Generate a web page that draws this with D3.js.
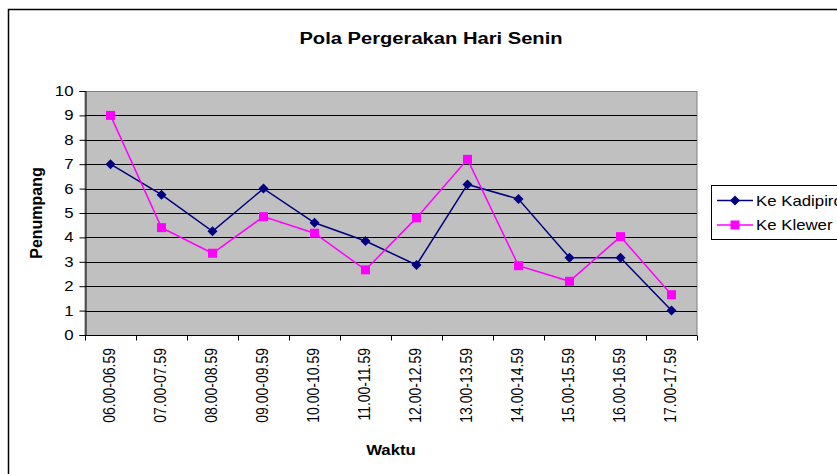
<!DOCTYPE html>
<html>
<head>
<meta charset="utf-8">
<script src="https://cdn.jsdelivr.net/npm/d3@7"></script>
<style>
  html, body { margin: 0; padding: 0; background: #fff; }
  svg { display: block; font-family: "Liberation Sans", Arial, sans-serif; }
</style>
</head>
<body>
<svg id="chart" width="837" height="474"></svg>
<script>
// Hourly time slots (x axis)
const categories = ["06.00-06.59", "07.00-07.59", "08.00-08.59", "09.00-09.59",
  "10.00-10.59", "11.00-11.59", "12.00-12.59", "13.00-13.59",
  "14.00-14.59", "15.00-15.59", "16.00-16.59", "17.00-17.59"];
// Passenger counts per slot
const keKadipiro = [7, 5.75, 4.25, 6, 4.6, 3.85, 2.87, 6.17, 5.57, 3.17, 3.17, 1];
const keKlewer   = [9, 4.4, 3.35, 4.85, 4.17, 2.67, 4.8, 7.2, 2.84, 2.2, 4.03, 1.65];
const seriesNames = ["Ke Kadipiro", "Ke Klewer"];
const yTicks = [0, 1, 2, 3, 4, 5, 6, 7, 8, 9, 10];

const svg = d3.select("#chart");
const plot = { left: 85, right: 697, top: 91, bottom: 335 };
const SX = 1.2; // horizontal widening of the label glyphs

// Outer chart frame
svg.append("rect")
  .attr("x", 8.5).attr("y", 9.5)
  .attr("width", 900).attr("height", 500)
  .attr("fill", "#fff").attr("stroke", "#000").attr("stroke-width", 1.5);

const x = d3.scaleBand().domain(categories).range([plot.left, plot.right]);
const y = d3.scaleLinear().domain([0, 10]).range([plot.bottom, plot.top]);

// Plot area background
svg.append("rect")
  .attr("x", plot.left).attr("y", plot.top + 0.5)
  .attr("width", plot.right - plot.left).attr("height", plot.bottom - plot.top)
  .attr("fill", "#c0c0c0").attr("stroke", "#808080").attr("stroke-width", 1);

// Horizontal gridlines
svg.append("g")
  .selectAll("line")
  .data(yTicks.filter(d => d > 0 && d < 10))
  .join("line")
  .attr("x1", plot.left).attr("x2", plot.right)
  .attr("y1", d => Math.round(y(d)) + 0.5).attr("y2", d => Math.round(y(d)) + 0.5)
  .attr("stroke", "#000").attr("stroke-width", 1);

// Y axis
const yAxis = svg.append("g")
  .attr("transform", `translate(${plot.left + 0.5},0)`)
  .call(d3.axisLeft(y).tickValues(yTicks).tickSize(6).tickPadding(6).tickFormat(d3.format("d")));
yAxis.selectAll("text")
  .attr("font-size", 14).attr("fill", "#000")
  .attr("font-family", "Liberation Sans, Arial, sans-serif")
  .attr("x", 0)
  .attr("transform", `translate(-12,0) scale(${SX},1)`);
yAxis.selectAll("line, path").attr("stroke", "#000");

// X axis with ticks on category boundaries
const xAxisG = svg.append("g").attr("transform", `translate(0,${plot.bottom + 0.5})`);
xAxisG.append("line")
  .attr("x1", plot.left).attr("x2", plot.right)
  .attr("stroke", "#000");
xAxisG.selectAll("line.tick")
  .data(d3.range(categories.length + 1))
  .join("line")
  .attr("class", "tick")
  .attr("x1", i => Math.round(plot.left + i * x.step()) + 0.5)
  .attr("x2", i => Math.round(plot.left + i * x.step()) + 0.5)
  .attr("y1", 0).attr("y2", 5)
  .attr("stroke", "#000");
xAxisG.selectAll("text")
  .data(categories)
  .join("text")
  .attr("transform", d => `translate(${x(d) + x.bandwidth() / 2 + 4.5},12.5) scale(${SX},1) rotate(-90)`)
  .attr("text-anchor", "end")
  .attr("font-size", 14)
  .attr("fill", "#000")
  .text(d => d);

// Title and axis titles
svg.append("text")
  .attr("transform", `translate(431,44) scale(${SX},1)`)
  .attr("text-anchor", "middle")
  .attr("font-size", 16.8).attr("font-weight", "bold")
  .text("Pola Pergerakan Hari Senin");
svg.append("text")
  .attr("transform", `translate(${(plot.left + plot.right) / 2},455) scale(${SX},1)`)
  .attr("text-anchor", "middle")
  .attr("font-size", 14).attr("font-weight", "bold")
  .text("Waktu");
svg.append("text")
  .attr("transform", `translate(41.5,${(plot.top + plot.bottom) / 2}) rotate(-90)`)
  .attr("text-anchor", "middle")
  .attr("font-size", 16).attr("font-weight", "bold")
  .text("Penumpang");

// Lines and markers
const series = [
  { name: seriesNames[0], values: keKadipiro, color: "#000080", marker: "diamond" },
  { name: seriesNames[1], values: keKlewer, color: "#ff00ff", marker: "square" }
];
const line = d3.line()
  .x((d, i) => x(categories[i]) + x.bandwidth() / 2)
  .y(d => y(d));

function drawMarker(g, type, cx, cy, color) {
  if (type === "diamond") {
    g.append("path")
      .attr("d", `M${cx},${cy - 5}L${cx + 5},${cy}L${cx},${cy + 5}L${cx - 5},${cy}Z`)
      .attr("fill", color);
  } else {
    g.append("rect")
      .attr("x", cx - 4.5).attr("y", cy - 4.5)
      .attr("width", 9).attr("height", 9)
      .attr("fill", color);
  }
}

series.forEach(s => {
  svg.append("path")
    .datum(s.values)
    .attr("d", line)
    .attr("fill", "none")
    .attr("stroke", s.color)
    .attr("stroke-width", 1.5);
  const g = svg.append("g");
  s.values.forEach((v, i) => {
    drawMarker(g, s.marker, x(categories[i]) + x.bandwidth() / 2, y(v), s.color);
  });
});

// Legend
const legend = svg.append("g");
legend.append("rect")
  .attr("x", 711.5).attr("y", 185.5)
  .attr("width", 200).attr("height", 54)
  .attr("fill", "#fff").attr("stroke", "#000").attr("stroke-width", 1);
series.forEach((s, i) => {
  const ly = 200.5 + i * 24.5;
  legend.append("line")
    .attr("x1", 717).attr("x2", 753)
    .attr("y1", ly).attr("y2", ly)
    .attr("stroke", s.color).attr("stroke-width", 1.5);
  drawMarker(legend, s.marker, 735, ly, s.color);
  legend.append("text")
    .attr("transform", `translate(756,${ly + 5}) scale(${SX},1)`)
    .attr("font-size", 14)
    .text(s.name);
});
</script>
</body>
</html>
